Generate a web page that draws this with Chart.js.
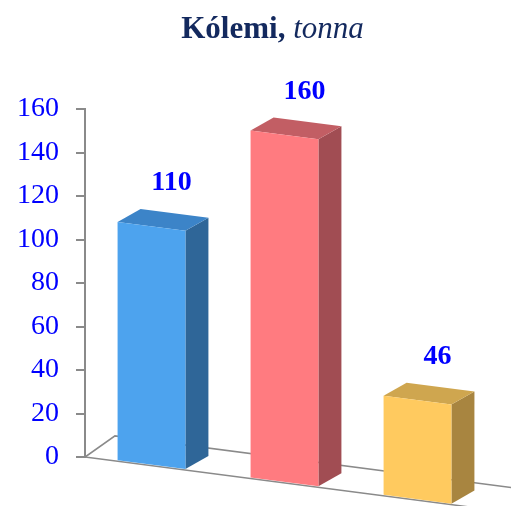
<!DOCTYPE html>
<html>
<head>
<meta charset="utf-8">
<script src="https://cdn.jsdelivr.net/npm/chart.js@4.4.1/dist/chart.umd.min.js"></script>
<style>
  html, body { margin: 0; padding: 0; background: #ffffff; }
  #wrap { position: relative; width: 511px; height: 506px; }
  #title { position: absolute; left: 0; width: 545px; top: 10px; text-align: center;
    font-family: "Liberation Serif", "Times New Roman", serif; font-size: 31px; color: #13295E; }
  canvas { position: absolute; left: 0; top: 0; }
</style>
</head>
<body>
<div id="wrap">
  <canvas id="c" width="511" height="506"></canvas>
  <div id="title"><b>Kólemi,</b> <i>tonna</i></div>
</div>
<script>
const categories = ["A", "B", "C"];
const values = [110, 160, 46];
const frontColors = ["#4DA3EE", "#FF7B80", "#FFCA5F"];
const sideColors = ["#2F6698", "#A14D53", "#A88540"];
const topColors = ["#3C84C8", "#C25E64", "#CFA64F"];
const yTicks = [0, 20, 40, 60, 80, 100, 120, 140, 160];

const SHEAR = 0.13;
const DEPTH_X = 23, DEPTH_Y = -16;

function applyShear(chart) {
  const x0 = chart.chartArea.left;
  chart.ctx.transform(1, SHEAR, 0, 1, 0, -SHEAR * x0);
}

const bar3d = {
  id: 'bar3d',
  beforeDatasetsDraw(chart) {
    const ctx = chart.ctx;
    const a = chart.chartArea;
    const y0 = chart.scales.y.getPixelForValue(0);
    ctx.save();
    applyShear(chart);
    // floor
    ctx.strokeStyle = '#8a8a8a';
    ctx.lineWidth = 1.5;
    ctx.beginPath();
    ctx.moveTo(a.left, y0);
    ctx.lineTo(a.right + 40, y0);
    ctx.lineTo(a.right + 40 + 30, y0 - 25);
    ctx.lineTo(a.left + 30, y0 - 25);
    ctx.closePath();
    ctx.stroke();
    // side and top faces
    const meta = chart.getDatasetMeta(0);
    meta.data.forEach((bar, i) => {
      const p = bar.getProps(['x', 'y', 'base', 'width'], true);
      const l = p.x - p.width / 2, r = p.x + p.width / 2;
      ctx.fillStyle = sideColors[i];
      ctx.beginPath();
      ctx.moveTo(r, p.y);
      ctx.lineTo(r + DEPTH_X, p.y + DEPTH_Y);
      ctx.lineTo(r + DEPTH_X, p.base + DEPTH_Y);
      ctx.lineTo(r, p.base);
      ctx.closePath();
      ctx.fill();
      ctx.fillStyle = topColors[i];
      ctx.beginPath();
      ctx.moveTo(l, p.y);
      ctx.lineTo(l + DEPTH_X, p.y + DEPTH_Y);
      ctx.lineTo(r + DEPTH_X, p.y + DEPTH_Y);
      ctx.lineTo(r, p.y);
      ctx.closePath();
      ctx.fill();
    });
  },
  afterDatasetsDraw(chart) {
    const ctx = chart.ctx;
    ctx.restore();
    const x0 = chart.chartArea.left;
    const meta = chart.getDatasetMeta(0);
    ctx.save();
    ctx.fillStyle = '#0000FF';
    ctx.font = 'bold 28px "Liberation Serif", "Times New Roman", serif';
    ctx.textAlign = 'center';
    ctx.textBaseline = 'middle';
    meta.data.forEach((bar, i) => {
      const p = bar.getProps(['x', 'y'], true);
      const lx = p.x + 20;
      const ly = p.y - 46 + SHEAR * (lx - x0);
      ctx.fillText(String(values[i]), lx, ly);
    });
    ctx.restore();
  }
};

new Chart(document.getElementById('c'), {
  type: 'bar',
  data: {
    labels: categories,
    datasets: [{
      data: values,
      backgroundColor: frontColors,
      borderWidth: 0,
      barPercentage: 0.51,
      categoryPercentage: 1.0,
      clip: false
    }]
  },
  options: {
    responsive: false,
    animation: false,
    devicePixelRatio: 1,
    layout: { padding: { top: 109, bottom: 49, left: 0, right: 27 } },
    plugins: { legend: { display: false }, title: { display: false }, tooltip: { enabled: false } },
    scales: {
      x: { display: false },
      y: {
        min: 0, max: 160,
        afterBuildTicks(axis) { axis.ticks = yTicks.map(v => ({ value: v })); },
        ticks: {
          color: '#0000FF',
          padding: 17,
          font: { family: '"Liberation Serif", "Times New Roman", serif', size: 28 }
        },
        grid: { drawOnChartArea: false, drawTicks: true, tickLength: 9, color: '#8a8a8a', lineWidth: 2 },
        border: { display: true, color: '#8a8a8a', width: 2 }
      }
    }
  },
  plugins: [bar3d]
});
</script>
</body>
</html>
